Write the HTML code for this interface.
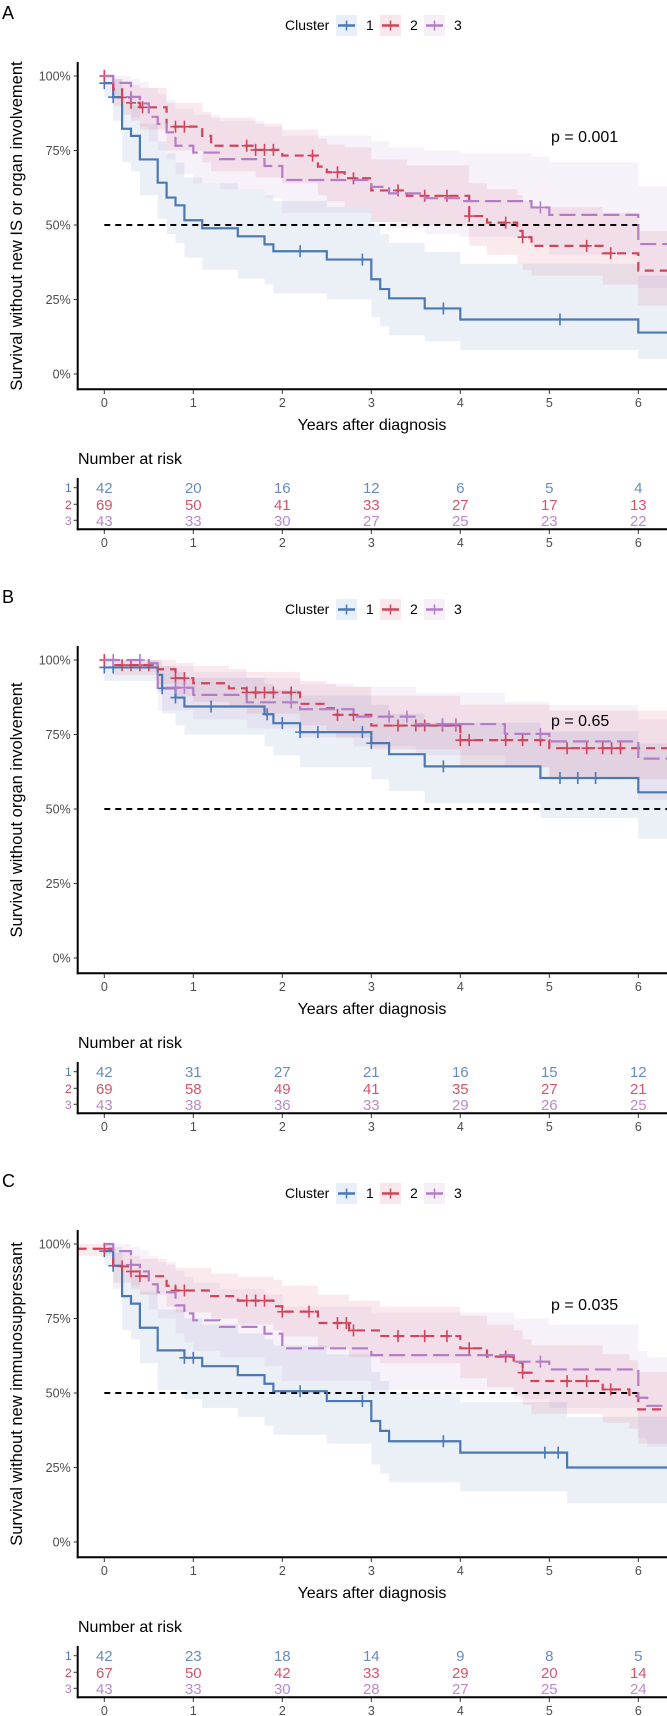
<!DOCTYPE html>
<html><head><meta charset="utf-8">
<style>
html,body{margin:0;padding:0;background:#fff;}
body{width:667px;height:1716px;overflow:hidden;}
svg{display:block;font-family:"Liberation Sans",Arial,sans-serif;}
</style></head>
<body>
<svg id="chart" width="667" height="1716" viewBox="0 0 667 1716" xmlns="http://www.w3.org/2000/svg"></svg>
<script>
// ---------- data ----------
const xTicks = [0,1,2,3,4,5,6];
const yTicks = [0,25,50,75,100];
const yTickLabels = ["0%","25%","50%","75%","100%"];
const panelLetters = ["A","B","C"];
const yTitles = ["Survival without new IS or organ involvement","Survival without organ involvement","Survival without new immunosuppressant"];
const pValues = ["p = 0.001","p = 0.65","p = 0.035"];

// Panel A
const aBlueT = [0,0.1,0.2,0.3,0.4,0.6,0.7,0.8,0.9,1.1,1.5,1.8,1.9,2.5,3.0,3.1,3.2,3.6,4.0,6.0];
const aBlueS = [97.6,92.9,82.3,79.9,72.0,64.2,59.2,56.6,51.6,48.9,46.2,43.5,41.2,38.4,31.8,28.5,25.4,22.0,18.3,13.9];
const aBlueUp = [100,99,92,90,84,78,74,71,66,64,62,60,58,56,50,47,44,41,37,33];
const aBlueLo = [93,85,71,68,60,52,47,44,39,35,32,30,27,25,19,16,13,11,8,5];
const aBlueC = [0,0.1,2.2,2.9,3.81,5.12];
const aRedT = [0,0.1,0.2,0.3,0.4,0.7,1.1,1.2,1.7,2.0,2.4,2.5,2.7,3.0,3.4,4.1,4.3,4.64,4.7,4.8,5.6,6.0];
const aRedS = [100,95.5,92.8,91,89.5,83,79.9,76.6,75.2,73.3,69.6,67.7,65.7,61.6,59.8,53,50.8,48,45.9,43,40.5,34.7];
const aRedUp = [100,99,98,97,96,91,88,86,84,82,79,77,76,72,70,64,62,60,58,56,54,48];
const aRedLo = [100,90,87,85,82,75,71,68,66,64,60,58,56,51,50,43,40,37,35,33,30,23];
const aRedC = [0,0.2,0.3,0.43,0.8,0.9,1.6,1.7,1.8,1.9,2.34,2.62,2.8,3.3,3.6,3.85,4.1,4.51,4.7,5.42,5.69];
const aPurT = [0,0.1,0.3,0.4,0.5,0.6,0.7,0.8,1.0,1.3,1.8,2.0,3.0,3.2,3.6,4.0,4.8,5.0,6.0];
const aPurS = [100,97.7,93,90.8,86.3,83.9,81.1,76.6,74.3,72.1,69.8,65.1,62.8,60.6,59,58,55.9,53.4,43.6];
const aPurUp = [100,100,99,98,96,94,92,89,87,85,83,80,78,76,75,74,73,71,63];
const aPurLo = [100,93,86,83,78,75,72,67,64,62,59,54,51,49,47,46,43,40,29];
const aPurC = [0.3,4.9];
const aRisk1 = [42,20,16,12,6,5,4];
const aRisk2 = [69,50,41,33,27,17,13];
const aRisk3 = [43,33,30,27,25,23,22];

// Panel B
const bBlueT = [0,0.6,0.65,0.8,0.9,1.8,1.9,2.2,3.0,3.2,3.6,4.9,6.0];
const bBlueS = [97.5,95,90.5,87.4,84.4,81.8,78.8,75.8,72.1,68.4,64.3,60.4,55.6];
const bBlueUp = [100,100,98,96,94,92,90,88,85,82,79,76,72];
const bBlueLo = [93,89,82,78,75,71,68,64,60,56,52,47,40];
const bBlueC = [0,0.1,0.65,0.8,1.2,1.83,2.0,2.2,2.4,2.9,3.0,3.81,5.12,5.32,5.52];
const bRedT = [0,0.1,0.6,0.8,1.0,1.4,1.6,2.2,2.5,2.6,3.0,4.0,5.0];
const bRedS = [100,98.3,96.9,93.9,92.2,90.5,89.1,85.3,83.8,81.6,78,73.1,70.4];
const bRedUp = [100,100,100,99,98,97,96,93,92,91,88,85,83];
const bRedLo = [100,95,92,88,86,84,82,78,76,74,70,64,60];
const bRedC = [0,0.2,0.3,0.4,0.5,0.8,0.9,1.6,1.7,1.8,1.9,2.1,2.62,2.8,3.3,3.5,3.6,3.8,3.95,4.0,4.1,4.51,4.7,4.9,5.2,5.42,5.6,5.7,5.8];
const bPurT = [0,0.5,0.6,1.0,1.6,2.2,2.8,3.5,4.5,5.0,6.0];
const bPurS = [100,98.9,90.7,88.3,85.8,83.5,81,78.5,75.2,72.7,66.9];
const bPurUp = [100,100,98,96,94,92,91,89,86,85,80];
const bPurLo = [100,96,83,80,77,74,71,68,64,61,53];
const bPurC = [0.1,0.4,0.8,0.9,2.1,3.2,3.4,3.8,3.95,4.9];
const bRisk1 = [42,31,27,21,16,15,12];
const bRisk2 = [69,58,49,41,35,27,21];
const bRisk3 = [43,38,36,33,29,26,25];

// Panel C
const cBlueT = [0,0.1,0.2,0.3,0.4,0.6,0.9,1.1,1.5,1.8,1.9,2.5,3.0,3.1,3.2,4.0,5.2];
const cBlueS = [97.6,92.7,82.5,80,71.9,64.3,61.8,59,56,53.1,50.6,47.3,40.6,37.3,33.8,30,25];
const cBlueUp = [100,99,92,90,84,78,75,73,70,68,66,63,57,54,50,47,42];
const cBlueLo = [93,85,71,68,60,51,48,45,42,39,36,33,26,23,20,17,13];
const cBlueC = [0,0.1,0.9,1.0,2.2,2.9,3.81,4.95,5.1];
const cRedT = [-0.3,0.1,0.3,0.4,0.7,0.8,1.2,1.5,1.9,2.0,2.4,2.75,3.1,4.0,4.3,4.6,4.7,4.8,5.6,5.9,6.0];
const cRedS = [98.4,92.5,90.8,89.2,86,84.4,82.5,81,79.1,77.3,73.5,71,69.1,65,62.2,60.2,56.8,54,51.2,49,44.5];
const cRedUp = [100,97,96,95,93,92,90,89,88,86,83,81,79,76,73,71,68,66,63,61,57];
const cRedLo = [96,87,85,83,79,77,75,73,71,69,65,62,60,55,52,49,46,43,40,38,33];
const cRedC = [0,0.2,0.3,0.4,0.8,0.9,1.6,1.7,1.8,2.0,2.3,2.62,2.72,2.8,3.3,3.6,3.85,4.1,4.51,4.7,5.2,5.42,5.69];
const cPurT = [0,0.1,0.3,0.4,0.5,0.6,0.8,0.9,1.0,1.3,1.8,2.0,3.0,4.6,5.0,6.0,6.1];
const cPurS = [100,97.6,93,90.8,86.5,83.8,79.4,76.7,74.4,72.2,69.9,65,62.7,60.5,57.9,48.4,45.7];
const cPurUp = [100,100,99,98,96,94,91,89,87,85,83,79,77,75,73,64,62];
const cPurLo = [100,93,86,83,78,75,70,67,64,62,59,54,51,48,45,35,32];
const cPurC = [0.3,4.9];
const cRisk1 = [42,23,18,14,9,8,5];
const cRisk2 = [67,50,42,33,29,20,14];
const cRisk3 = [43,33,30,28,27,25,24];

// ---------- drawing ----------
const NS = "http://www.w3.org/2000/svg";
const svg = document.getElementById("chart");
const COL = ["#4B78B4","#D0435A","#B27DC6"];
const DASH = ["", "9 6", "16 6"];
const AXX = 77.7, X0 = 104.3, XS = 89, XR = 667;
function xs(t){ return X0 + XS*t; }
function ysc(o){ return s => o + 374 - 2.98*s; }
function mk(tag, attrs, parent){
  const e = document.createElementNS(NS, tag);
  for (const k in attrs) e.setAttribute(k, attrs[k]);
  (parent||svg).appendChild(e);
  return e;
}
function txt(s, x, y, size, fill, anchor, parent){
  const e = mk("text", {x:x, y:y, "font-size":size, fill:fill, "text-anchor":anchor||"start"}, parent);
  e.textContent = s;
  return e;
}
function stepD(T, S, y, tEnd){
  let d = "M" + xs(T[0]) + "," + y(S[0]);
  for (let i=1;i<T.length;i++){ d += "H" + xs(T[i]) + "V" + y(S[i]); }
  d += "H" + xs(tEnd);
  return d;
}
function bandD(T, U, L, y, tEnd){
  let d = "M" + xs(T[0]) + "," + y(U[0]);
  for (let i=1;i<T.length;i++){ d += "H" + xs(T[i]) + "V" + y(U[i]); }
  d += "H" + xs(tEnd) + "V" + y(L[L.length-1]);
  for (let i=T.length-1;i>=1;i--){ d += "H" + xs(T[i]) + "V" + y(L[i-1]); }
  d += "H" + xs(T[0]) + "Z";
  return d;
}
function survAt(T, S, t){ let v = S[0]; for (let i=0;i<T.length;i++){ if (T[i] <= t + 1e-9) v = S[i]; } return v; }

const panels = [
  {o:0, series:[[aBlueT,aBlueS,aBlueUp,aBlueLo,aBlueC],[aRedT,aRedS,aRedUp,aRedLo,aRedC],[aPurT,aPurS,aPurUp,aPurLo,aPurC]], risk:[aRisk1,aRisk2,aRisk3], refEnd:6},
  {o:584, series:[[bBlueT,bBlueS,bBlueUp,bBlueLo,bBlueC],[bRedT,bRedS,bRedUp,bRedLo,bRedC],[bPurT,bPurS,bPurUp,bPurLo,bPurC]], risk:[bRisk1,bRisk2,bRisk3], refEnd:6.5},
  {o:1168, series:[[cBlueT,cBlueS,cBlueUp,cBlueLo,cBlueC],[cRedT,cRedS,cRedUp,cRedLo,cRedC],[cPurT,cPurS,cPurUp,cPurLo,cPurC]], risk:[cRisk1,cRisk2,cRisk3], refEnd:6}
];
const tEnd = (XR - X0)/XS;
const defs = mk("defs", {});
const cp = mk("clipPath", {id:"clipA"}, defs);
mk("rect", {x:AXX, y:0, width:XR-AXX, height:1716}, cp);

panels.forEach((P, pi) => {
  const o = P.o, y = ysc(o);
  const g = mk("g", {});
  
  
  const lt = txt(panelLetters[pi], 2, o+19, 18, "#000", "start", g);
  
  

  // legend
  const lg = mk("g", {}, g);
  
  
  const lgt = txt("Cluster", 285, o+30, 14, "#000", "start", lg);
  
  
  const kx = [336, 380, 424];
  for (let k=0;k<3;k++){
    const e = mk("g", {}, lg);
    
    
    mk("rect", {x:kx[k], y:o+15, width:21, height:21, fill:COL[k], "fill-opacity":0.12}, e);
    mk("line", {x1:kx[k]+2, x2:kx[k]+19, y1:o+25.5, y2:o+25.5, stroke:COL[k], "stroke-width":2.5}, e);
    mk("line", {x1:kx[k]+10.5, x2:kx[k]+10.5, y1:o+20.5, y2:o+30.5, stroke:COL[k], "stroke-width":1.5}, e);
    txt(String(k+1), kx[k]+30, o+30, 14, "#000", "start", e);
  }

  // bands
  const bands = mk("g", {"clip-path":"url(#clipA)"}, g);
  P.series.forEach((s, k) => {
    const b = mk("path", {d:bandD(s[0], s[2], s[3], y, tEnd), fill:COL[k], "fill-opacity":0.11, stroke:"none"}, bands);
    
    
  });
  // reference line
  const ref = mk("line", {x1:xs(0), x2:Math.min(xs(P.refEnd), XR), y1:y(50), y2:y(50), stroke:"#000", "stroke-width":2, "stroke-dasharray":"6 5"}, g);
  
  
  // curves
  const curves = mk("g", {"clip-path":"url(#clipA)"}, g);
  P.series.forEach((s, k) => {
    const c = mk("path", {d:stepD(s[0], s[1], y, tEnd), fill:"none", stroke:COL[k], "stroke-width":2.2, "stroke-dasharray":DASH[k]}, curves);
    
    
    s[4].forEach(t => {
      const cy = y(survAt(s[0], s[1], t)), cx = xs(t);
      const m = mk("path", {d:"M"+(cx-5)+","+cy+"H"+(cx+5)+"M"+cx+","+(cy-6)+"V"+(cy+6), stroke:COL[k], "stroke-width":1.6, fill:"none"}, curves);
      
      
    });
  });

  // axes
  const ax = mk("g", {}, g);
  
  
  mk("line", {x1:AXX, x2:AXX, y1:o+62, y2:o+390.3, stroke:"#000", "stroke-width":2}, ax);
  mk("line", {x1:AXX-1, x2:XR, y1:o+389.3, y2:o+389.3, stroke:"#000", "stroke-width":2}, ax);
  yTicks.forEach((v, i) => {
    mk("line", {x1:AXX-4, x2:AXX, y1:y(v), y2:y(v), stroke:"#333", "stroke-width":1}, ax);
    const t = txt(yTickLabels[i], AXX-7, y(v)+4.5, 12.5, "#4d4d4d", "end", ax);
    
    
  });
  xTicks.forEach(v => {
    mk("line", {x1:xs(v), x2:xs(v), y1:o+390, y2:o+394, stroke:"#333", "stroke-width":1}, ax);
    const t = txt(String(v), xs(v), o+407, 12.5, "#4d4d4d", "middle", ax);
    
    
  });
  const xt = txt("Years after diagnosis", 372, o+430, 16, "#000", "middle", g);
  
  
  const yt = txt(yTitles[pi], 0, 0, 16.5, "#000", "middle", g);
  yt.setAttribute("transform", "translate(22," + (o+226) + ") rotate(-90)");
  
  
  const pv = txt(pValues[pi], 551, o+142, 16, "#000", "start", g);
  
  

  // risk table
  const rt = mk("g", {}, g);
  
  
  const rtt = txt("Number at risk", 78, o+464, 16, "#000", "start", rt);
  
  
  mk("line", {x1:AXX, x2:AXX, y1:o+478, y2:o+530.3, stroke:"#000", "stroke-width":2}, rt);
  mk("line", {x1:AXX-1, x2:XR, y1:o+529.3, y2:o+529.3, stroke:"#000", "stroke-width":2}, rt);
  const rowY = [487.7, 504.3, 520.3];
  P.risk.forEach((row, k) => {
    mk("line", {x1:AXX-4, x2:AXX, y1:o+rowY[k], y2:o+rowY[k], stroke:"#333", "stroke-width":1}, rt);
    txt(String(k+1), AXX-6, o+rowY[k]+4.5, 12, COL[k], "end", rt);
    row.forEach((n, i) => {
      const t = txt(String(n), xs(xTicks[i]), o+rowY[k]+5.5, 15, COL[k], "middle", rt);
      t.setAttribute("fill-opacity", k===0 ? 0.85 : 0.9);
      
      
    });
  });
  xTicks.forEach(v => {
    mk("line", {x1:xs(v), x2:xs(v), y1:o+530, y2:o+534, stroke:"#333", "stroke-width":1}, rt);
    txt(String(v), xs(v), o+547, 12.5, "#4d4d4d", "middle", rt);
  });
});
</script>
</body></html>
